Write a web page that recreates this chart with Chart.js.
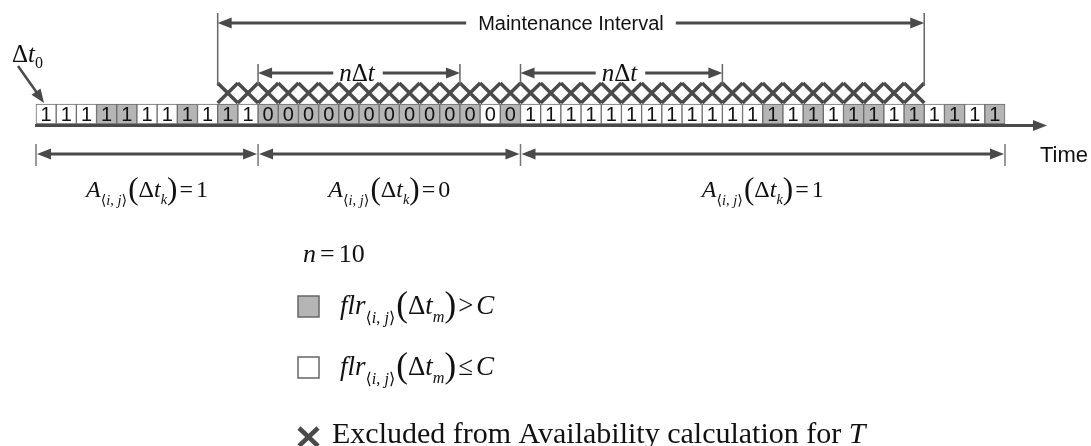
<!DOCTYPE html>
<html>
<head>
<meta charset="utf-8">
<script src="https://cdn.jsdelivr.net/npm/chart.js@4.4.0/dist/chart.umd.min.js"></script>
<style>
  html, body { margin: 0; padding: 0; background: #fff; }
  #wrap { position: relative; width: 1091px; height: 446px; }
</style>
</head>
<body>
<div id="wrap"><canvas id="timeline"></canvas></div>
<script>
// value shown in each Δt cell along the time axis
const cellValues = [1,1,1,1,1,1,1,1,1,1,1,
                    0,0,0,0,0,0,0,0,0,0,0,0,0,
                    1,1,1,1,1,1,1,1,1,1,1,1,1,1,1,1,1,1,1,1,1,1,1,1];
// 1 = flr > C (grey cell), 0 = flr <= C (white cell)
const cellOverC  = [0,0,0,1,1,0,0,1,0,1,0,
                    1,1,1,1,1,1,1,1,1,1,1,0,1,
                    0,0,0,0,0,0,0,0,0,0,0,0,1,0,1,0,1,1,0,1,0,1,0,1];
// maintenance interval, as cell boundaries
const maintInterval = [9, 44];
// n and the starts of the two nΔt windows
const nWindow = 10;
const windowStarts = [11, 24];
// availability segments: boundaries and value of A in each
const availBounds = [0, 11, 24, 48];
const availValues = [1, 0, 1];

const excludedCells = [];
for (let i = maintInterval[0]; i < maintInterval[1]; i++) excludedCells.push(i);

// layout
const SERIF = '"Liberation Serif", "DejaVu Serif", serif';
const SANS = '"Liberation Sans", Arial, sans-serif';
const INK = '#4a4a4a';
const GREY = '#b5b5b5';
const ROW_TOP = 104, ROW_BOT = 124, AXIS_Y = 125.5, CROSS_Y = 93;
const CELL_PX = 969 / 48;
const X_MIN = -36 / CELL_PX;
const X_MAX = X_MIN + 1091 / CELL_PX;

function head(ctx, x, y, dir) {
    ctx.beginPath();
    ctx.moveTo(x, y);
    ctx.lineTo(x - dir * 14, y - 5.5);
    ctx.lineTo(x - dir * 14, y + 5.5);
    ctx.closePath();
    ctx.fill();
}

function line(ctx, x1, y1, x2, y2) {
    ctx.beginPath();
    ctx.moveTo(x1, y1);
    ctx.lineTo(x2, y2);
    ctx.stroke();
}

// double arrow, optionally with a gap in the middle for a label
function dblArrow(ctx, x1, x2, y, gap) {
    ctx.lineWidth = 3;
    if (gap) {
        line(ctx, x1 + 10, y, gap[0], y);
        line(ctx, gap[1], y, x2 - 10, y);
    } else {
        line(ctx, x1 + 10, y, x2 - 10, y);
    }
    head(ctx, x1, y, -1);
    head(ctx, x2, y, 1);
}

function richWidth(ctx, segs) {
    let w = 0;
    segs.forEach(s => {
        ctx.font = (s.it ? 'italic ' : '') + s.size + 'px ' + SERIF;
        w += (s.pre || 0) + ctx.measureText(s.t).width + (s.post || 0);
    });
    return w;
}

function drawRich(ctx, segs, x, y) {
    ctx.textAlign = 'left';
    ctx.textBaseline = 'alphabetic';
    segs.forEach(s => {
        ctx.font = (s.it ? 'italic ' : '') + s.size + 'px ' + SERIF;
        x += s.pre || 0;
        ctx.fillText(s.t, x, y + (s.dy || 0));
        x += ctx.measureText(s.t).width + (s.post || 0);
    });
}

function subIJ(S) {
    const s = S * 0.6, d = S * 0.32;
    return [
        {t: '\u27E8', size: s, dy: d},
        {t: 'i', it: true, size: s, dy: d},
        {t: ', ', size: s, dy: d},
        {t: 'j', it: true, size: s, dy: d},
        {t: '\u27E9', size: s, dy: d}
    ];
}

function availSegs(val) {
    const S = 24;
    return [{t: 'A', it: true, size: S}]
        .concat(subIJ(S))
        .concat([
            {t: '(', size: S * 1.3, dy: S * 0.08, pre: 1},
            {t: '\u0394', size: S},
            {t: 't', it: true, size: S},
            {t: 'k', it: true, size: S * 0.6, dy: S * 0.3},
            {t: ')', size: S * 1.3, dy: S * 0.08},
            {t: '=', size: S, pre: 2, post: 3},
            {t: String(val), size: S}
        ]);
}

function flrSegs(op) {
    const S = 27;
    return [{t: 'flr', it: true, size: S}]
        .concat(subIJ(S))
        .concat([
            {t: '(', size: S * 1.3, dy: S * 0.08, pre: 1},
            {t: '\u0394', size: S},
            {t: 't', it: true, size: S},
            {t: 'm', it: true, size: S * 0.6, dy: S * 0.3},
            {t: ')', size: S * 1.3, dy: S * 0.08},
            {t: op, size: S, pre: 2, post: 3},
            {t: 'C', it: true, size: S}
        ]);
}

const annotations = {
    id: 'annotations',
    afterDatasetsDraw(chart) {
        const ctx = chart.ctx;
        const px = v => chart.scales.x.getPixelForValue(v);
        ctx.save();
        ctx.fillStyle = INK;
        ctx.strokeStyle = INK;

        // digits inside the cells
        const meta = chart.getDatasetMeta(0);
        ctx.fillStyle = '#111';
        ctx.font = '20px ' + SANS;
        ctx.textAlign = 'center';
        ctx.textBaseline = 'middle';
        meta.data.forEach((el, i) => {
            ctx.fillText(String(cellValues[i]), el.x, (el.y + el.base) / 2 + 1);
        });
        ctx.fillStyle = INK;

        // time axis
        ctx.lineWidth = 3;
        line(ctx, px(-0.05), AXIS_Y, px(50.08) - 10, AXIS_Y);
        head(ctx, px(50.08), AXIS_Y, 1);
        ctx.fillStyle = '#111';
        ctx.font = '22px ' + SANS;
        ctx.textAlign = 'left';
        ctx.textBaseline = 'middle';
        ctx.fillText('Time', 1040, 156);
        ctx.fillStyle = INK;

        // maintenance interval
        const m1 = px(maintInterval[0]), m2 = px(maintInterval[1]);
        ctx.strokeStyle = '#666';
        ctx.lineWidth = 1.5;
        line(ctx, m1, 13, m1, 86);
        line(ctx, m2, 13, m2, 86);
        ctx.strokeStyle = INK;
        ctx.font = '20px ' + SANS;
        const mText = 'Maintenance Interval';
        const mw = ctx.measureText(mText).width;
        const mc = (m1 + m2) / 2;
        dblArrow(ctx, m1, m2, 23, [mc - mw / 2 - 12, mc + mw / 2 + 12]);
        ctx.fillStyle = '#111';
        ctx.font = '20px ' + SANS;
        ctx.textAlign = 'center';
        ctx.textBaseline = 'middle';
        ctx.fillText(mText, mc, 24);
        ctx.fillStyle = INK;

        // n Δt windows
        const nSegs = [
            {t: 'n', it: true, size: 25},
            {t: '\u0394', size: 25},
            {t: 't', it: true, size: 25}
        ];
        windowStarts.forEach(s => {
            const a = px(s), b = px(s + nWindow);
            ctx.strokeStyle = '#666';
            ctx.lineWidth = 1.5;
            line(ctx, a, 64, a, 86);
            line(ctx, b, 64, b, 86);
            ctx.strokeStyle = INK;
            const w = richWidth(ctx, nSegs);
            const c = (a + b) / 2 - 2;
            dblArrow(ctx, a, b, 73, [c - w / 2 - 6, c + w / 2 + 8]);
            ctx.fillStyle = '#111';
            drawRich(ctx, nSegs, c - w / 2, 81);
            ctx.fillStyle = INK;
        });

        // availability segments
        availBounds.forEach(b => {
            ctx.strokeStyle = '#777';
            ctx.lineWidth = 1.5;
            line(ctx, px(b), 144, px(b), 166);
        });
        ctx.strokeStyle = INK;
        availValues.forEach((v, i) => {
            const a = px(availBounds[i]), b = px(availBounds[i + 1]);
            dblArrow(ctx, a + 1, b - 1, 154);
            const segs = availSegs(v);
            const w = richWidth(ctx, segs);
            ctx.fillStyle = '#111';
            drawRich(ctx, segs, (a + b) / 2 - w / 2, 197);
            ctx.fillStyle = INK;
        });

        // Δt0 pointer
        ctx.fillStyle = '#111';
        drawRich(ctx, [
            {t: '\u0394', size: 25},
            {t: 't', it: true, size: 25},
            {t: '0', size: 16, dy: 6}
        ], 12, 62);
        ctx.fillStyle = INK;
        ctx.lineWidth = 2.5;
        const tx = px(0.4), ty = ROW_TOP - 1;
        const ang = Math.atan2(ty - 66, tx - 18);
        line(ctx, 18, 66, tx - Math.cos(ang) * 10, ty - Math.sin(ang) * 10);
        ctx.save();
        ctx.translate(tx, ty);
        ctx.rotate(ang);
        head(ctx, 0, 0, 1);
        ctx.restore();

        // key
        ctx.fillStyle = '#111';
        drawRich(ctx, [
            {t: 'n', it: true, size: 26},
            {t: '=', size: 26, pre: 4, post: 4},
            {t: '10', size: 26}
        ], 303, 262);

        ctx.lineWidth = 1.5;
        ctx.strokeStyle = '#666';
        ctx.fillStyle = GREY;
        ctx.fillRect(298, 296, 21, 21);
        ctx.strokeRect(298, 296, 21, 21);
        ctx.fillStyle = '#111';
        drawRich(ctx, flrSegs('>'), 340, 314);

        ctx.fillStyle = '#fff';
        ctx.fillRect(298, 357, 21, 21);
        ctx.strokeRect(298, 357, 21, 21);
        ctx.fillStyle = '#111';
        drawRich(ctx, flrSegs('\u2264'), 340, 375);

        ctx.strokeStyle = INK;
        ctx.lineWidth = 4.5;
        line(ctx, 299, 428, 318, 446);
        line(ctx, 318, 428, 299, 446);
        drawRich(ctx, [
            {t: 'Excluded from Availability calculation for ', size: 30},
            {t: 'T', it: true, size: 30}
        ], 332, 443);

        ctx.restore();
    }
};

new Chart(document.getElementById('timeline'), {
    type: 'bar',
    data: {
        datasets: [
            {
                label: 'cells',
                data: cellValues.map((v, i) => ({x: i + 0.5, y: [ROW_BOT, ROW_TOP]})),
                backgroundColor: cellOverC.map(g => g ? GREY : '#ffffff'),
                borderColor: '#6b6b6b',
                borderWidth: 1,
                borderSkipped: false,
                barPercentage: 1,
                categoryPercentage: 1
            },
            {
                type: 'scatter',
                label: 'excluded',
                data: excludedCells.map(i => ({x: i + 0.5, y: CROSS_Y})),
                pointStyle: 'crossRot',
                pointRadius: 14.3,
                borderColor: INK,
                borderWidth: 3.5,
                clip: false
            }
        ]
    },
    options: {
        responsive: true,
        maintainAspectRatio: false,
        animation: false,
        events: [],
        layout: { padding: 0, autoPadding: false },
        plugins: {
            legend: { display: false },
            tooltip: { enabled: false }
        },
        scales: {
            x: { type: 'linear', min: X_MIN, max: X_MAX, offset: false, display: false },
            y: { type: 'linear', min: 0, max: 446, reverse: true, display: false }
        }
    },
    plugins: [annotations]
});
</script>
</body>
</html>
